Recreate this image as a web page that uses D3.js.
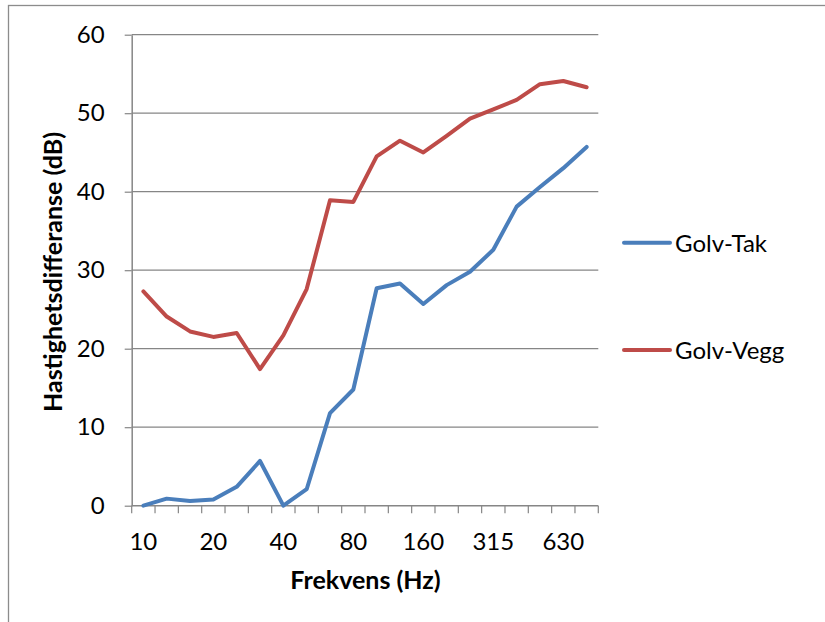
<!DOCTYPE html>
<html><head><meta charset="utf-8">
<script src="https://cdn.jsdelivr.net/npm/d3@7"></script>
<style>body{margin:0;background:#fff}</style>
</head><body><svg id="c" width="825" height="622"></svg>
<script>
const categories = ["10","12.5","16","20","25","31.5","40","50","63","80","100","125","160","200","250","315","400","500","630","800"];
const tickLabels = ["10","20","40","80","160","315","630"];
const golvTak = [0,0.9,0.6,0.8,2.4,5.7,0,2.1,11.8,14.8,27.7,28.3,25.7,28.1,29.8,32.6,38.1,40.6,43.0,45.7];
const golvVegg = [27.3,24.1,22.2,21.5,22.0,17.4,21.7,27.6,38.9,38.7,44.5,46.5,45.0,47.1,49.3,50.5,51.7,53.7,54.1,53.3];
const yTicks = [0,10,20,30,40,50,60];
const seriesNames = ["Golv-Tak","Golv-Vegg"];
const seriesColors = ["#4A7EBB","#BE4B48"];

const svg = d3.select("#c");
const font = "Lato, 'Open Sans', sans-serif";
const grey = "#868686";

// outer frame
svg.append("rect").attr("x",8.5).attr("y",5.5).attr("width",900).attr("height",700)
  .attr("fill","none").attr("stroke","#8c8c8c").attr("stroke-width",1.3);

const x = d3.scaleBand().domain(categories).range([131.7, 598.3]);
const y = d3.scaleLinear().domain([0,60]).range([505.7, 34.7]);
const cx = c => x(c) + x.bandwidth()/2;

// gridlines
svg.append("g").selectAll("line").data(yTicks.filter(v=>v>0)).join("line")
  .attr("x1",131.7).attr("x2",598.3).attr("y1",d=>y(d)).attr("y2",d=>y(d))
  .attr("stroke",grey).attr("stroke-width",1.2);

// y axis
const yAxis = svg.append("g").attr("transform","translate(131.7,0)")
  .call(d3.axisLeft(y).tickValues(yTicks).tickSize(7).tickPadding(20).tickSizeOuter(0));
yAxis.select(".domain").attr("stroke",grey).attr("stroke-width",1.5);
yAxis.selectAll(".tick line").attr("stroke",grey).attr("stroke-width",1.2);
yAxis.selectAll("text").attr("font-family",font).attr("font-size",24).attr("fill","#000");

// x axis
const xg = svg.append("g");
xg.append("line").attr("x1",131.7).attr("x2",598.3).attr("y1",y(0)).attr("y2",y(0))
  .attr("stroke",grey).attr("stroke-width",1.5);
const bounds = categories.map(c=>x(c)).concat([x.range()[1]]);
xg.selectAll(".tk").data(bounds).join("line").attr("class","tk")
  .attr("x1",d=>d).attr("x2",d=>d).attr("y1",y(0)).attr("y2",y(0)+7.5)
  .attr("stroke",grey).attr("stroke-width",1.2);
xg.selectAll("text").data(tickLabels).join("text")
  .attr("x",d=>cx(d)).attr("y",550).attr("text-anchor","middle")
  .attr("font-family",font).attr("font-size",24).attr("fill","#000").text(d=>d);

// lines
const line = d3.line().x((d,i)=>cx(categories[i])).y(d=>y(d));
[golvTak, golvVegg].forEach((s,k)=>{
  svg.append("path").datum(s).attr("d",line).attr("fill","none")
    .attr("stroke",seriesColors[k]).attr("stroke-width",4)
    .attr("stroke-linejoin","round").attr("stroke-linecap","round");
});

// titles
svg.append("text").attr("x",365.5).attr("y",589).attr("text-anchor","middle")
  .attr("font-family",font).attr("font-weight","bold").attr("font-size",25).text("Frekvens (Hz)");
svg.append("text").attr("transform","translate(62,272) rotate(-90)").attr("text-anchor","middle")
  .attr("font-family",font).attr("font-weight","bold").attr("font-size",25).text("Hastighetsdifferanse (dB)");

// legend
const legY = [242.7, 350];
const lg = svg.append("g").selectAll("g").data(seriesNames).join("g");
lg.append("line").attr("x1",624).attr("x2",670).attr("y1",(d,i)=>legY[i]).attr("y2",(d,i)=>legY[i])
  .attr("stroke",(d,i)=>seriesColors[i]).attr("stroke-width",4).attr("stroke-linecap","round");
lg.append("text").attr("x",675).attr("y",(d,i)=>legY[i]+9)
  .attr("font-family",font).attr("font-size",24).attr("fill","#000").text(d=>d);
</script></body></html>
